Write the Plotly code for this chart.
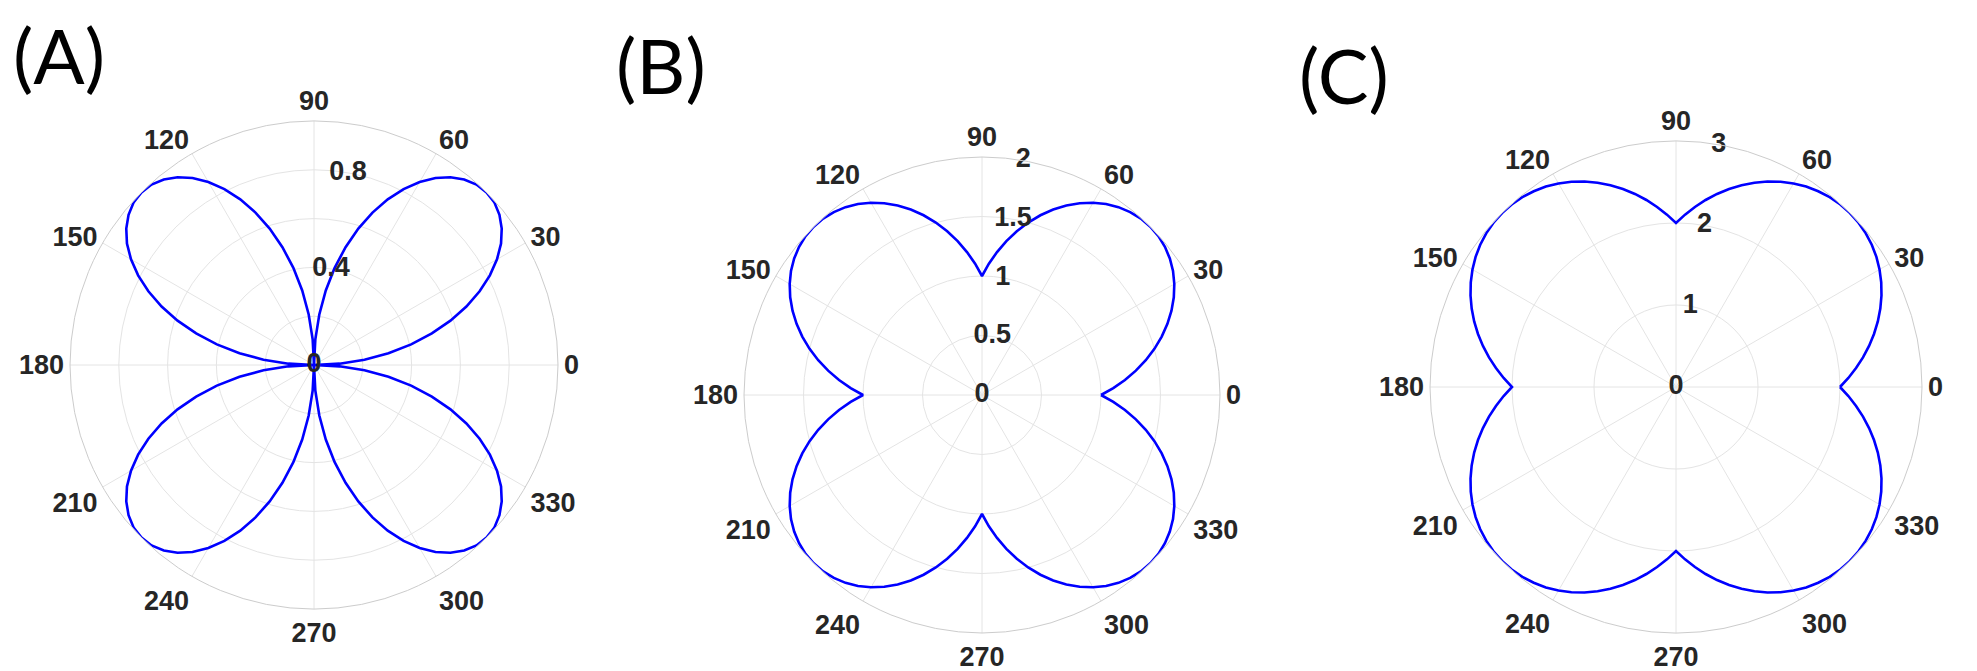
import plotly.graph_objects as go

# ---------------- data ----------------
theta_deg = list(range(0, 363, 3))

r_A = [0, 0.105, 0.208, 0.309, 0.407, 0.5, 0.588, 0.669, 0.743, 0.809, 0.866, 0.914, 0.951, 0.978, 0.995,
       1.0, 0.995, 0.978, 0.951, 0.914, 0.866, 0.809, 0.743, 0.669, 0.588, 0.5, 0.407, 0.309, 0.208, 0.105,
       0, 0.105, 0.208, 0.309, 0.407, 0.5, 0.588, 0.669, 0.743, 0.809, 0.866, 0.914, 0.951, 0.978, 0.995,
       1.0, 0.995, 0.978, 0.951, 0.914, 0.866, 0.809, 0.743, 0.669, 0.588, 0.5, 0.407, 0.309, 0.208, 0.105,
       0, 0.105, 0.208, 0.309, 0.407, 0.5, 0.588, 0.669, 0.743, 0.809, 0.866, 0.914, 0.951, 0.978, 0.995,
       1.0, 0.995, 0.978, 0.951, 0.914, 0.866, 0.809, 0.743, 0.669, 0.588, 0.5, 0.407, 0.309, 0.208, 0.105,
       0, 0.105, 0.208, 0.309, 0.407, 0.5, 0.588, 0.669, 0.743, 0.809, 0.866, 0.914, 0.951, 0.978, 0.995,
       1.0, 0.995, 0.978, 0.951, 0.914, 0.866, 0.809, 0.743, 0.669, 0.588, 0.5, 0.407, 0.309, 0.208, 0.105,
       0]

r_B = [1, 1.105, 1.208, 1.309, 1.407, 1.5, 1.588, 1.669, 1.743, 1.809, 1.866, 1.914, 1.951, 1.978, 1.995,
       2.0, 1.995, 1.978, 1.951, 1.914, 1.866, 1.809, 1.743, 1.669, 1.588, 1.5, 1.407, 1.309, 1.208, 1.105,
       1, 1.105, 1.208, 1.309, 1.407, 1.5, 1.588, 1.669, 1.743, 1.809, 1.866, 1.914, 1.951, 1.978, 1.995,
       2.0, 1.995, 1.978, 1.951, 1.914, 1.866, 1.809, 1.743, 1.669, 1.588, 1.5, 1.407, 1.309, 1.208, 1.105,
       1, 1.105, 1.208, 1.309, 1.407, 1.5, 1.588, 1.669, 1.743, 1.809, 1.866, 1.914, 1.951, 1.978, 1.995,
       2.0, 1.995, 1.978, 1.951, 1.914, 1.866, 1.809, 1.743, 1.669, 1.588, 1.5, 1.407, 1.309, 1.208, 1.105,
       1, 1.105, 1.208, 1.309, 1.407, 1.5, 1.588, 1.669, 1.743, 1.809, 1.866, 1.914, 1.951, 1.978, 1.995,
       2.0, 1.995, 1.978, 1.951, 1.914, 1.866, 1.809, 1.743, 1.669, 1.588, 1.5, 1.407, 1.309, 1.208, 1.105,
       1]

r_C = [2, 2.105, 2.208, 2.309, 2.407, 2.5, 2.588, 2.669, 2.743, 2.809, 2.866, 2.914, 2.951, 2.978, 2.995,
       3.0, 2.995, 2.978, 2.951, 2.914, 2.866, 2.809, 2.743, 2.669, 2.588, 2.5, 2.407, 2.309, 2.208, 2.105,
       2, 2.105, 2.208, 2.309, 2.407, 2.5, 2.588, 2.669, 2.743, 2.809, 2.866, 2.914, 2.951, 2.978, 2.995,
       3.0, 2.995, 2.978, 2.951, 2.914, 2.866, 2.809, 2.743, 2.669, 2.588, 2.5, 2.407, 2.309, 2.208, 2.105,
       2, 2.105, 2.208, 2.309, 2.407, 2.5, 2.588, 2.669, 2.743, 2.809, 2.866, 2.914, 2.951, 2.978, 2.995,
       3.0, 2.995, 2.978, 2.951, 2.914, 2.866, 2.809, 2.743, 2.669, 2.588, 2.5, 2.407, 2.309, 2.208, 2.105,
       2, 2.105, 2.208, 2.309, 2.407, 2.5, 2.588, 2.669, 2.743, 2.809, 2.866, 2.914, 2.951, 2.978, 2.995,
       3.0, 2.995, 2.978, 2.951, 2.914, 2.866, 2.809, 2.743, 2.669, 2.588, 2.5, 2.407, 2.309, 2.208, 2.105,
       2]

angle_ticks = [0, 30, 60, 90, 120, 150, 180, 210, 240, 270, 300, 330]
angle_labels = ["0", "30", "60", "90", "120", "150", "180", "210", "240", "270", "300", "330"]

rgrid_A = [0.2, 0.4, 0.6, 0.8, 1.0]
rlabel_A = [0, 0.4, 0.8]
rtext_A = ["0", "0.4", "0.8"]

rgrid_B = [0.5, 1.0, 1.5, 2.0]
rlabel_B = [0, 0.5, 1.0, 1.5, 2.0]
rtext_B = ["0", "0.5", "1", "1.5", "2"]

rgrid_C = [1, 2, 3]
rlabel_C = [0, 1, 2, 3]
rtext_C = ["0", "1", "2", "3"]

panel_titles = ["(A)", "(B)", "(C)"]

# ---------------- layout helpers ----------------
W, H = 1977, 671
LABEL_ANGLE = 80


def domain(cx, cy, R):
    return dict(x=[(cx - R) / W, (cx + R) / W], y=[1 - (cy + R) / H, 1 - (cy - R) / H])


tick_font = dict(family="Liberation Sans, Arial, sans-serif", size=27, color="#262626", weight="bold")
GRID = "#e4e4e4"
OUTER = "#cccccc"


def polar_layout(cx, cy, R, rmax, rgrid):
    return dict(
        domain=domain(cx, cy, R),
        bgcolor="white",
        radialaxis=dict(range=[0, rmax], tickmode="array", tickvals=rgrid, showticklabels=False,
                        ticks="", showline=False, gridcolor=GRID, gridwidth=1),
        angularaxis=dict(direction="counterclockwise", rotation=0, tickmode="array",
                         tickvals=angle_ticks, ticktext=angle_labels, tickfont=tick_font,
                         ticks="", showline=True, linecolor=OUTER, linewidth=1,
                         gridcolor=GRID, gridwidth=1),
    )


fig = go.Figure()

panels = [
    ("polar", r_A, rlabel_A, rtext_A),
    ("polar2", r_B, rlabel_B, rtext_B),
    ("polar3", r_C, rlabel_C, rtext_C),
]

for sub, r_vals, rl, rt in panels:
    fig.add_trace(go.Scatterpolar(r=r_vals, theta=theta_deg, mode="lines",
                                  line=dict(color="#0000ff", width=2.6),
                                  subplot=sub, hoverinfo="skip", showlegend=False))
    fig.add_trace(go.Scatterpolar(r=rl, theta=[LABEL_ANGLE] * len(rl), mode="text", text=rt,
                                  textfont=tick_font, textposition="middle center",
                                  subplot=sub, hoverinfo="skip", showlegend=False, cliponaxis=False))

fig.update_layout(
    template="none",
    width=W, height=H,
    margin=dict(l=0, r=0, t=0, b=0),
    paper_bgcolor="white",
    showlegend=False,
    polar=polar_layout(306, 357, 244, 1.0, rgrid_A),
    polar2=polar_layout(974, 387, 238, 2.0, rgrid_B),
    polar3=polar_layout(1668, 379, 246, 3.0, rgrid_C),
)

# (label, x centre px, top of text box px)
title_pos = [(51, 0), (653, 10), (1336, 20)]
for txt, (px, py) in zip(panel_titles, title_pos):
    fig.add_annotation(text=txt, x=px / W, y=1 - py / H, xref="paper", yref="paper",
                       xanchor="center", yanchor="top", showarrow=False, borderpad=0,
                       font=dict(family="Lato, Open Sans, sans-serif", size=76, color="black"))

fig.write_html("out.html")
